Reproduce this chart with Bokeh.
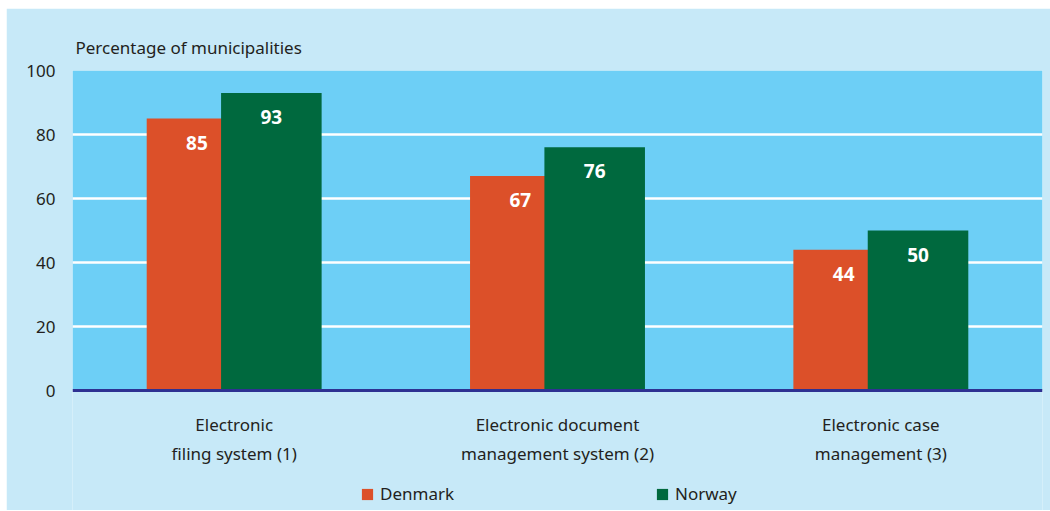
from bokeh.plotting import figure
from bokeh.models import (Legend, LegendItem, ColumnDataSource, FactorRange, FixedTicker,
                          Range1d, BoxAnnotation, Span)
from bokeh.layouts import column
from bokeh.transform import dodge
from bokeh.embed import file_html
from bokeh.resources import INLINE
from bokeh.core.properties import value

categories = ["Electronic\nfiling system (1)",
              "Electronic document\nmanagement system (2)",
              "Electronic case\nmanagement (3)"]
denmark = [85, 67, 44]
norway = [93, 76, 50]
y_ticks = [0, 20, 40, 60, 80, 100]
series_names = ["Denmark", "Norway"]

FONT = "Noto Sans"
TXT = "#231f20"
DK_COLOR = "#dc5029"
NO_COLOR = "#00693e"
PANEL = "#c7e9f8"
PLOT_BG = "#6dcff6"
Y_MIN, Y_MAX = 0, 100
Y_LOW = -37.5  # room below the axis for category labels and legend

src = ColumnDataSource(dict(
    cat=categories, dk=denmark, no=norway, base=[Y_MIN] * len(categories),
    dk_lbl=[str(v) for v in denmark], no_lbl=[str(v) for v in norway]))

p = figure(x_range=FactorRange(*categories), y_range=Range1d(Y_LOW, Y_MAX),
           width=1044, height=502, output_backend="svg", toolbar_location=None,
           min_border_left=66, min_border_right=8, min_border_top=62, min_border_bottom=0)

p.background_fill_color = PANEL
p.border_fill_color = PANEL
p.outline_line_color = None

# plot-area colour between 0 and 100
p.add_layout(BoxAnnotation(bottom=Y_MIN, top=Y_MAX, fill_color=PLOT_BG, fill_alpha=1,
                           line_color=None, level="image"))

p.title.text = "Percentage of municipalities"
p.title.align = "left"
p.title.text_font = FONT
p.title.text_font_size = "17px"
p.title.text_font_style = "normal"
p.title.text_color = TXT
p.title.offset = 3
p.title.standoff = 23

r1 = p.vbar(x=dodge("cat", -0.115, range=p.x_range), top="dk", width=0.311,
            source=src, fill_color=DK_COLOR, line_color=None)
r2 = p.vbar(x=dodge("cat", 0.115, range=p.x_range), top="no", width=0.311,
            source=src, fill_color=NO_COLOR, line_color=None)

for col, lbl, off in (("dk", "dk_lbl", -0.115), ("no", "no_lbl", 0.115)):
    p.text(x=dodge("cat", off, range=p.x_range), y=col, text=lbl, source=src,
           y_offset=24, text_align="center", text_baseline="middle",
           text_color="white", text_font=value(FONT), text_font_size="19px",
           text_font_style="bold")

# category labels under the baseline
p.text(x="cat", y="base", text="cat", source=src, y_offset=22,
       text_align="center", text_baseline="top", text_line_height=1.3,
       text_color=TXT, text_font=value(FONT), text_font_size="17px")

# baseline at 0
p.add_layout(Span(location=Y_MIN, dimension="width", line_color="#2e3192", line_width=3))

p.xaxis.visible = False
p.xgrid.grid_line_color = None
p.ygrid.ticker = FixedTicker(ticks=y_ticks)
p.ygrid.grid_line_color = "white"
p.ygrid.grid_line_width = 2.5

p.yaxis.ticker = FixedTicker(ticks=y_ticks)
p.yaxis.axis_line_color = None
p.yaxis.major_tick_line_color = None
p.yaxis.minor_tick_line_color = None
p.yaxis.major_label_text_font = FONT
p.yaxis.major_label_text_font_size = "17px"
p.yaxis.major_label_text_color = TXT
p.yaxis.major_label_standoff = 11

legend = Legend(items=[LegendItem(label=series_names[0], renderers=[r1]),
                       LegendItem(label=series_names[1], renderers=[r2])],
                orientation="horizontal", location=(288, 5),
                padding=0, margin=0, spacing=0, glyph_width=14, glyph_height=14,
                label_standoff=6, label_width=275, label_height=20,
                label_text_font=FONT, label_text_font_size="17px", label_text_color=TXT,
                background_fill_alpha=0, border_line_color=None)
p.add_layout(legend, "center")

layout = column(p)
layout.margin = (8, 0, 0, 6)
open("out.html", "w").write(file_html(layout, INLINE))
